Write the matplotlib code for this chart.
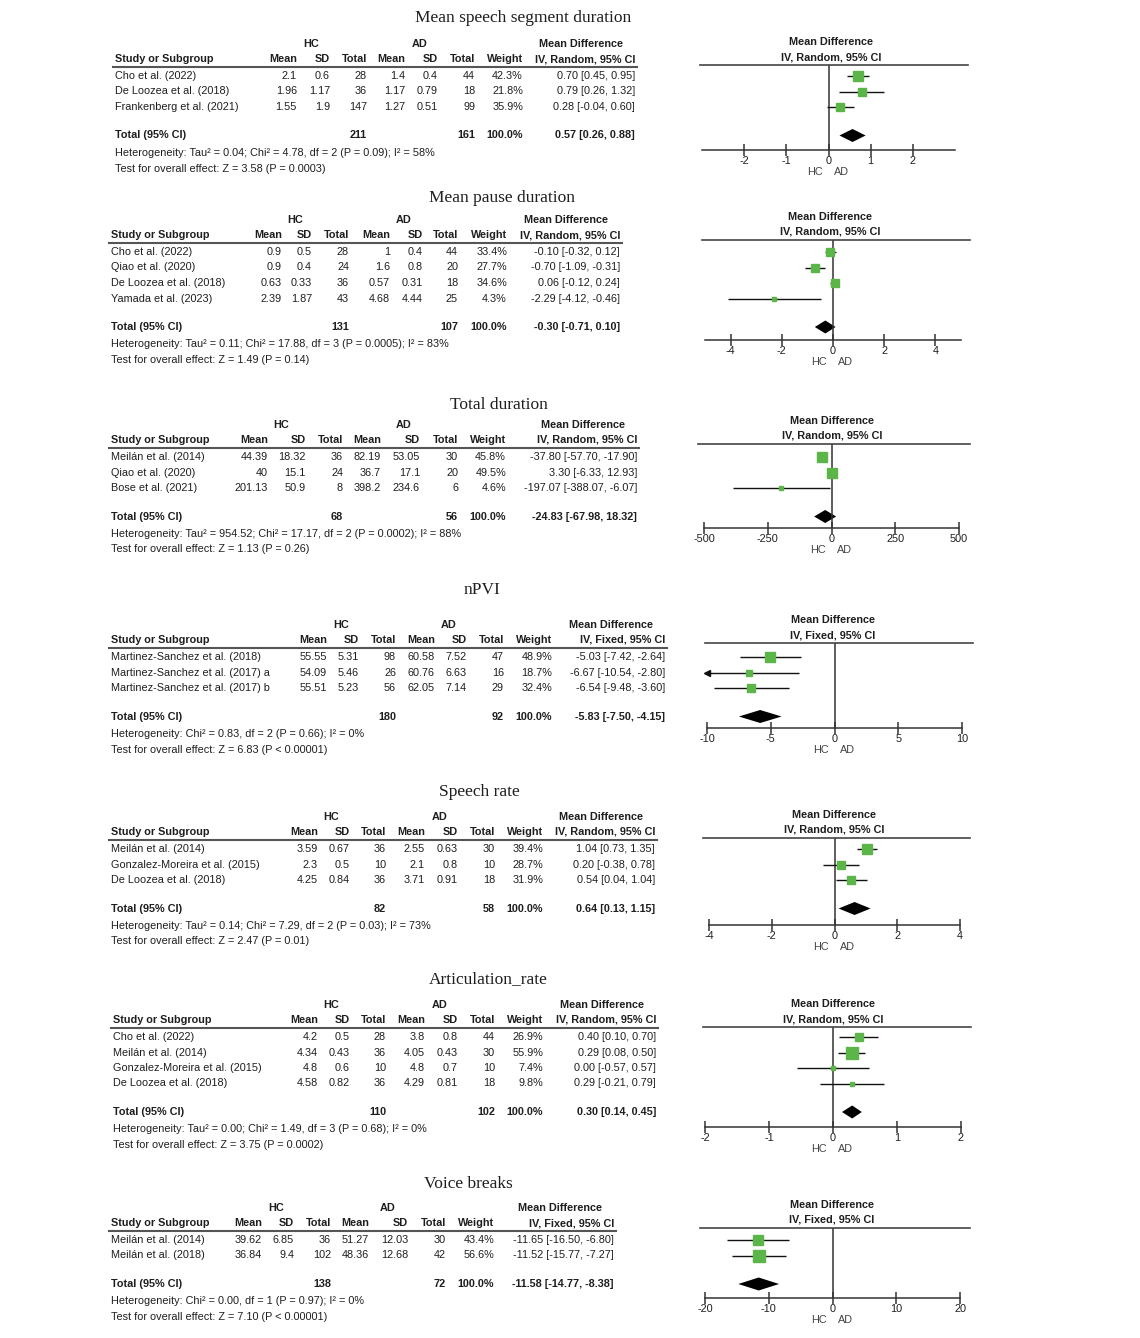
import matplotlib
matplotlib.use("Agg")
import matplotlib.pyplot as plt
from matplotlib.lines import Line2D

# ---- data ----
seg_title = "Mean speech segment duration"
seg_studies = ["Cho et al. (2022)", "De Loozea et al. (2018)", "Frankenberg et al. (2021)"]
seg_hc_mean = [2.1, 1.96, 1.55]
seg_hc_sd = [0.6, 1.17, 1.9]
seg_hc_n = [28, 36, 147]
seg_ad_mean = [1.4, 1.17, 1.27]
seg_ad_sd = [0.4, 0.79, 0.51]
seg_ad_n = [44, 18, 99]
seg_weight = [42.3, 21.8, 35.9]
seg_md = [0.70, 0.79, 0.28]
seg_lo = [0.45, 0.26, -0.04]
seg_hi = [0.95, 1.32, 0.60]
seg_total = (0.57, 0.26, 0.88)
seg_het = "Heterogeneity: Tau² = 0.04; Chi² = 4.78, df = 2 (P = 0.09); I² = 58%"
seg_test = "Test for overall effect: Z = 3.58 (P = 0.0003)"

pau_title = "Mean pause duration"
pau_studies = ["Cho et al. (2022)", "Qiao et al. (2020)", "De Loozea et al. (2018)", "Yamada et al. (2023)"]
pau_hc_mean = [0.9, 0.9, 0.63, 2.39]
pau_hc_sd = [0.5, 0.4, 0.33, 1.87]
pau_hc_n = [28, 24, 36, 43]
pau_ad_mean = [1, 1.6, 0.57, 4.68]
pau_ad_sd = [0.4, 0.8, 0.31, 4.44]
pau_ad_n = [44, 20, 18, 25]
pau_weight = [33.4, 27.7, 34.6, 4.3]
pau_md = [-0.10, -0.70, 0.06, -2.29]
pau_lo = [-0.32, -1.09, -0.12, -4.12]
pau_hi = [0.12, -0.31, 0.24, -0.46]
pau_total = (-0.30, -0.71, 0.10)
pau_het = "Heterogeneity: Tau² = 0.11; Chi² = 17.88, df = 3 (P = 0.0005); I² = 83%"
pau_test = "Test for overall effect: Z = 1.49 (P = 0.14)"

tot_title = "Total duration"
tot_studies = ["Meilán et al. (2014)", "Qiao et al. (2020)", "Bose et al. (2021)"]
tot_hc_mean = [44.39, 40, 201.13]
tot_hc_sd = [18.32, 15.1, 50.9]
tot_hc_n = [36, 24, 8]
tot_ad_mean = [82.19, 36.7, 398.2]
tot_ad_sd = [53.05, 17.1, 234.6]
tot_ad_n = [30, 20, 6]
tot_weight = [45.8, 49.5, 4.6]
tot_md = [-37.80, 3.30, -197.07]
tot_lo = [-57.70, -6.33, -388.07]
tot_hi = [-17.90, 12.93, -6.07]
tot_total = (-24.83, -67.98, 18.32)
tot_het = "Heterogeneity: Tau² = 954.52; Chi² = 17.17, df = 2 (P = 0.0002); I² = 88%"
tot_test = "Test for overall effect: Z = 1.13 (P = 0.26)"

npv_title = "nPVI"
npv_studies = ["Martinez-Sanchez et al. (2018)", "Martinez-Sanchez et al. (2017) a",
               "Martinez-Sanchez et al. (2017) b"]
npv_hc_mean = [55.55, 54.09, 55.51]
npv_hc_sd = [5.31, 5.46, 5.23]
npv_hc_n = [98, 26, 56]
npv_ad_mean = [60.58, 60.76, 62.05]
npv_ad_sd = [7.52, 6.63, 7.14]
npv_ad_n = [47, 16, 29]
npv_weight = [48.9, 18.7, 32.4]
npv_md = [-5.03, -6.67, -6.54]
npv_lo = [-7.42, -10.54, -9.48]
npv_hi = [-2.64, -2.80, -3.60]
npv_total = (-5.83, -7.50, -4.15)
npv_het = "Heterogeneity: Chi² = 0.83, df = 2 (P = 0.66); I² = 0%"
npv_test = "Test for overall effect: Z = 6.83 (P < 0.00001)"

spr_title = "Speech rate"
spr_studies = ["Meilán et al. (2014)", "Gonzalez-Moreira et al. (2015)", "De Loozea et al. (2018)"]
spr_hc_mean = [3.59, 2.3, 4.25]
spr_hc_sd = [0.67, 0.5, 0.84]
spr_hc_n = [36, 10, 36]
spr_ad_mean = [2.55, 2.1, 3.71]
spr_ad_sd = [0.63, 0.8, 0.91]
spr_ad_n = [30, 10, 18]
spr_weight = [39.4, 28.7, 31.9]
spr_md = [1.04, 0.20, 0.54]
spr_lo = [0.73, -0.38, 0.04]
spr_hi = [1.35, 0.78, 1.04]
spr_total = (0.64, 0.13, 1.15)
spr_het = "Heterogeneity: Tau² = 0.14; Chi² = 7.29, df = 2 (P = 0.03); I² = 73%"
spr_test = "Test for overall effect: Z = 2.47 (P = 0.01)"

art_title = "Articulation_rate"
art_studies = ["Cho et al. (2022)", "Meilán et al. (2014)", "Gonzalez-Moreira et al. (2015)",
               "De Loozea et al. (2018)"]
art_hc_mean = [4.2, 4.34, 4.8, 4.58]
art_hc_sd = [0.5, 0.43, 0.6, 0.82]
art_hc_n = [28, 36, 10, 36]
art_ad_mean = [3.8, 4.05, 4.8, 4.29]
art_ad_sd = [0.8, 0.43, 0.7, 0.81]
art_ad_n = [44, 30, 10, 18]
art_weight = [26.9, 55.9, 7.4, 9.8]
art_md = [0.40, 0.29, 0.00, 0.29]
art_lo = [0.10, 0.08, -0.57, -0.21]
art_hi = [0.70, 0.50, 0.57, 0.79]
art_total = (0.30, 0.14, 0.45)
art_het = "Heterogeneity: Tau² = 0.00; Chi² = 1.49, df = 3 (P = 0.68); I² = 0%"
art_test = "Test for overall effect: Z = 3.75 (P = 0.0002)"

vbr_title = "Voice breaks"
vbr_studies = ["Meilán et al. (2014)", "Meilán et al. (2018)"]
vbr_hc_mean = [39.62, 36.84]
vbr_hc_sd = [6.85, 9.4]
vbr_hc_n = [36, 102]
vbr_ad_mean = [51.27, 48.36]
vbr_ad_sd = [12.03, 12.68]
vbr_ad_n = [30, 42]
vbr_weight = [43.4, 56.6]
vbr_md = [-11.65, -11.52]
vbr_lo = [-16.50, -15.77]
vbr_hi = [-6.80, -7.27]
vbr_total = (-11.58, -14.77, -8.38)
vbr_het = "Heterogeneity: Chi² = 0.00, df = 1 (P = 0.97); I² = 0%"
vbr_test = "Test for overall effect: Z = 7.10 (P < 0.00001)"

models = ["Random", "Random", "Random", "Fixed", "Random", "Random", "Fixed"]
total_weight = "100.0%"

def pack(pre):
    g = globals()
    return {k: g[pre + "_" + k] for k in
            ["title", "studies", "hc_mean", "hc_sd", "hc_n", "ad_mean", "ad_sd", "ad_n",
             "weight", "md", "lo", "hi", "total", "het", "test"]}

panels = [pack(p) for p in ["seg", "pau", "tot", "npv", "spr", "art", "vbr"]]

# ---- layout in pixels (y from top) ----
layouts = [
    dict(title=(523, 18), first=76, cols=[297, 330, 367, 405, 438, 475, 523, 635], left=115,
         groups=(311, 420), fpx=(702, 955), lim=3, ticks=[-2, -1, 0, 1, 2],
         ftop=65, fbot=150, fline=(700, 968), fhead=831),
    dict(title=(502, 198), first=252, cols=[282, 312, 349, 390, 423, 458, 507, 620], left=111,
         groups=(295, 404), fpx=(705, 961), lim=5, ticks=[-4, -2, 0, 2, 4],
         ftop=240, fbot=340, fline=(702, 970), fhead=830),
    dict(title=(499, 405), first=457, cols=[268, 306, 343, 381, 420, 458, 506, 637], left=111,
         groups=(281, 404), fpx=(704, 959), lim=500, ticks=[-500, -250, 0, 250, 500],
         ftop=444, fbot=528, fline=(698, 970), fhead=832),
    dict(title=(482, 590), first=657, cols=[327, 359, 396, 435, 467, 504, 552, 665], left=111,
         groups=(341, 449), fpx=(707, 962), lim=10, ticks=[-10, -5, 0, 5, 10],
         ftop=643, fbot=728, fline=(705, 973), fhead=833),
    dict(title=(479, 792), first=849, cols=[318, 350, 386, 425, 458, 495, 543, 655], left=111,
         groups=(331, 440), fpx=(709, 960), lim=4, ticks=[-4, -2, 0, 2, 4],
         ftop=838, fbot=925, fline=(703, 970), fhead=834),
    dict(title=(488, 979), first=1037, cols=[318, 350, 386, 425, 458, 495, 543, 656], left=113,
         groups=(331, 440), fpx=(705, 961), lim=2, ticks=[-2, -1, 0, 1, 2],
         ftop=1027, fbot=1127, fline=(703, 971), fhead=833),
    dict(title=(468, 1184), first=1240, cols=[262, 294, 331, 369, 408, 446, 494, 614], left=111,
         groups=(276, 388), fpx=(705, 960), lim=20, ticks=[-20, -10, 0, 10, 20],
         ftop=1228, fbot=1298, fline=(700, 970), fhead=832),
]

W, H = 1140, 1338
SANS = "Liberation Sans"
SERIF = "Liberation Serif"
INK = "#1e1e1e"
GREEN = "#5cb548"
FS = 7.8
ROW = 15.5

fig = plt.figure(figsize=(W / 100, H / 100), dpi=100)
fig.patch.set_facecolor("white")


def fx(x):
    return x / W


def fy(y):
    return 1 - y / H


def txt(x, y, s, ha="left", bold=False, size=FS, family=SANS, color=INK):
    fig.text(fx(x), fy(y), s, ha=ha, va="center", fontsize=size, family=family,
             fontweight="bold" if bold else "normal", color=color)


def hline(x0, x1, y, lw=1.2, color="#555555"):
    fig.add_artist(Line2D([fx(x0), fx(x1)], [fy(y), fy(y)], transform=fig.transFigure,
                          lw=lw, color=color))


def num(v):
    return f"{v:g}"


def ci(m, l, h):
    return f"{m:.2f} [{l:.2f}, {h:.2f}]"


for p, L, model in zip(panels, layouts, models):
    n = len(p["studies"])
    c = L["cols"]
    rows_y = [L["first"] + i * ROW for i in range(n)]
    tot_y = rows_y[-1] + 28.5
    het_y = tot_y + 17.5
    test_y = het_y + 15.5

    # title
    txt(L["title"][0], L["title"][1], p["title"], ha="center", size=12.5, family=SERIF)

    # table headers
    gy = L["first"] - 32
    hy = L["first"] - 17
    txt(L["groups"][0], gy, "HC", ha="center", bold=True)
    txt(L["groups"][1], gy, "AD", ha="center", bold=True)
    txt(c[7] - 54, gy, "Mean Difference", ha="center", bold=True)
    txt(L["left"], hy, "Study or Subgroup", bold=True)
    heads = ["Mean", "SD", "Total", "Mean", "SD", "Total", "Weight", f"IV, {model}, 95% CI"]
    for x, h in zip(c, heads):
        txt(x, hy, h, ha="right", bold=True)
    hline(L["left"] - 2, c[7] + 2, L["first"] - 9.5, lw=1.5)

    # study rows
    for i, y in enumerate(rows_y):
        txt(L["left"], y, p["studies"][i])
        vals = [num(p["hc_mean"][i]), num(p["hc_sd"][i]), str(p["hc_n"][i]),
                num(p["ad_mean"][i]), num(p["ad_sd"][i]), str(p["ad_n"][i]),
                f"{p['weight'][i]:.1f}%", ci(p["md"][i], p["lo"][i], p["hi"][i])]
        for x, v in zip(c, vals):
            txt(x, y, v, ha="right")

    # total row + footnotes
    txt(L["left"], tot_y, "Total (95% CI)", bold=True)
    txt(c[2], tot_y, str(sum(p["hc_n"])), ha="right", bold=True)
    txt(c[5], tot_y, str(sum(p["ad_n"])), ha="right", bold=True)
    txt(c[6], tot_y, total_weight, ha="right", bold=True)
    txt(c[7], tot_y, ci(*p["total"]), ha="right", bold=True)
    txt(L["left"], het_y, p["het"])
    txt(L["left"], test_y, p["test"])

    # forest plot
    x0, x1 = L["fpx"]
    top, bot = L["ftop"], L["fbot"]
    lim = L["lim"]
    txt(L["fhead"], top - 23, "Mean Difference", ha="center", bold=True)
    txt(L["fhead"], top - 8, f"IV, {model}, 95% CI", ha="center", bold=True)
    hline(L["fline"][0], L["fline"][1], top, lw=1.2, color="#444444")

    ax = fig.add_axes([fx(x0), fy(bot), (x1 - x0) / W, (bot - top) / H])
    ax.set_xlim(-lim, lim)
    ax.set_ylim(bot, top)
    ax.patch.set_visible(False)
    for s in ["top", "left", "right"]:
        ax.spines[s].set_visible(False)
    ax.spines["bottom"].set_color("#333333")
    ax.spines["bottom"].set_linewidth(1.1)
    ax.set_yticks([])
    ax.set_xticks(L["ticks"])
    ax.set_xticklabels([num(t) for t in L["ticks"]], family=SANS, fontsize=FS, color=INK)
    ax.tick_params(axis="x", direction="inout", length=8, width=1.1, color="#333333", pad=0)
    ax.axvline(0, color="#333333", lw=1.1)

    for i, y in enumerate(rows_y):
        lo, hi = p["lo"][i], p["hi"][i]
        ax.plot([max(lo, -lim), min(hi, lim)], [y, y], color="#111111", lw=1.0,
                solid_capstyle="butt")
        if lo < -lim:
            ax.plot(-lim, y, marker="<", ms=4, color="#111111", clip_on=False)
        if hi > lim:
            ax.plot(lim, y, marker=">", ms=4, color="#111111", clip_on=False)
        side = 1.5 * p["weight"][i] ** 0.5
        ax.plot(p["md"][i], y, marker="s", ms=side * 0.72, color=GREEN, mec=GREEN, zorder=3)

    m, lo, hi = p["total"]
    ax.fill([lo, m, hi, m], [tot_y, tot_y - 6.5, tot_y, tot_y + 6.5], color="black", lw=0)

    ax.annotate("HC", xy=(0, 0), xycoords=("data", "axes fraction"), xytext=(-6, -22),
                textcoords="offset pixels", ha="right", va="center", fontsize=FS,
                family=SANS, color="#444444")
    ax.annotate("AD", xy=(0, 0), xycoords=("data", "axes fraction"), xytext=(5, -22),
                textcoords="offset pixels", ha="left", va="center", fontsize=FS,
                family=SANS, color="#444444")

fig.savefig("out.png", dpi=100, facecolor="white")
